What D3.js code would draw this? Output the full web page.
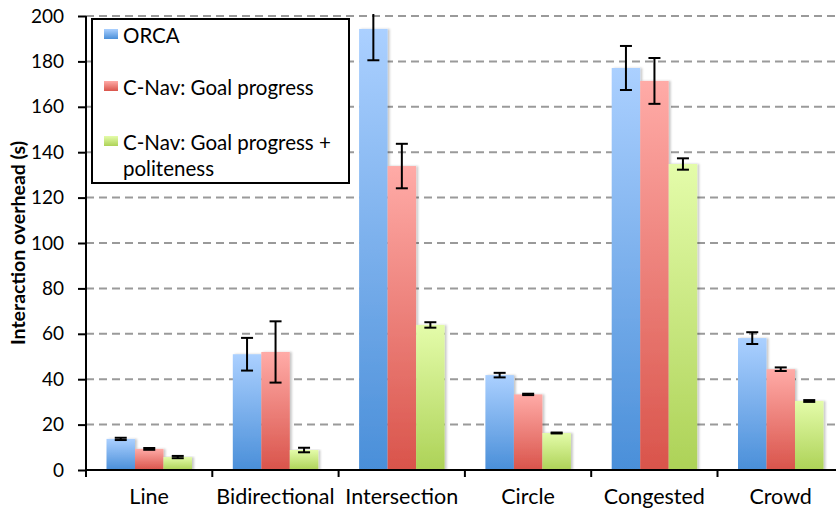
<!DOCTYPE html>
<html>
<head>
<meta charset="utf-8">
<script src="https://cdn.jsdelivr.net/npm/d3@7/dist/d3.min.js"></script>
<style>
  html, body { margin: 0; padding: 0; background: #fff; }
  svg { display: block; font-family: Lato, "Open Sans", sans-serif; }
</style>
</head>
<body>
<svg id="chart" width="836" height="509"></svg>
<script>
// Scenario names along the x axis
const categories = ["Line", "Bidirectional", "Intersection", "Circle", "Congested", "Crowd"];
// Planner variants shown in the legend
const seriesNames = ["ORCA", "C-Nav: Goal progress", "C-Nav: Goal progress + politeness"];
// Mean interaction overhead (s) per scenario, one array per planner
const orcaMean     = [13.7, 51.0, 194.3, 41.8, 177.1, 58.1];
const goalMean     = [9.3, 52.0, 133.9, 33.3, 171.4, 44.4];
const politeMean   = [5.7, 8.8, 63.9, 16.3, 134.8, 30.4];
// Error-bar half widths (s)
const orcaErr      = [0.5, 7.2, 13.8, 1.0, 9.7, 2.6];
const goalErr      = [0.4, 13.5, 9.8, 0.3, 10.1, 0.8];
const politeErr    = [0.5, 1.0, 1.2, 0.2, 2.5, 0.4];
// Y axis ticks
const yTicks = [0, 20, 40, 60, 80, 100, 120, 140, 160, 180, 200];

const means = [orcaMean, goalMean, politeMean];
const errs = [orcaErr, goalErr, politeErr];
const gradStops = [
  ["#abd0ff", "#4a8fd9"],
  ["#ffaba7", "#d9544b"],
  ["#e4fcaa", "#add257"]
];

const svg = d3.select("#chart");
const plotLeft = 86, plotTop = 16, plotBottom = 470;
const bandW = 126.3;

const y = d3.scaleLinear().domain([0, 200]).range([plotBottom, plotTop]);
const x = d3.scaleBand().domain(categories).range([plotLeft, plotLeft + bandW * categories.length]).padding(0);
const xs = d3.scaleBand().domain(d3.range(seriesNames.length)).range([20.5, 20.5 + 85.5]).padding(0);

const defs = svg.append("defs");
gradStops.forEach((s, i) => {
  const g = defs.append("linearGradient").attr("id", "grad" + i)
    .attr("x1", 0).attr("y1", 0).attr("x2", 0).attr("y2", 1);
  g.append("stop").attr("offset", "0%").attr("stop-color", s[0]);
  g.append("stop").attr("offset", "100%").attr("stop-color", s[1]);
});
const shadow = defs.append("filter").attr("id", "barShadow")
  .attr("x", "-20%").attr("y", "-5%").attr("width", "150%").attr("height", "110%");
shadow.append("feDropShadow").attr("dx", 2).attr("dy", 0).attr("stdDeviation", 1.2)
  .attr("flood-color", "#000").attr("flood-opacity", 0.22);
defs.append("clipPath").attr("id", "plotClip")
  .append("rect").attr("x", plotLeft).attr("y", plotTop - 2).attr("width", 836 - plotLeft).attr("height", plotBottom - plotTop + 2);

// Dashed horizontal gridlines
svg.append("g").selectAll("line").data(yTicks.filter(d => d > 0)).join("line")
  .attr("x1", plotLeft).attr("x2", 836)
  .attr("y1", d => y(d)).attr("y2", d => y(d))
  .attr("stroke", "#9a9a9a").attr("stroke-width", 2)
  .attr("stroke-dasharray", "8,5");

// Bars
const plot = svg.append("g").attr("clip-path", "url(#plotClip)");
means.forEach((vals, si) => {
  plot.append("g").selectAll("rect").data(vals).join("rect")
    .attr("x", (d, i) => x(categories[i]) + xs(si))
    .attr("y", d => y(d))
    .attr("width", xs.bandwidth())
    .attr("height", d => y(0) - y(d))
    .attr("fill", `url(#grad${si})`)
    .attr("filter", "url(#barShadow)");
});

// Error bars
means.forEach((vals, si) => {
  const g = plot.append("g").attr("stroke", "#000").attr("stroke-width", 2);
  vals.forEach((v, i) => {
    const cx = x(categories[i]) + xs(si) + xs.bandwidth() / 2;
    const lo = v - errs[si][i], hi = v + errs[si][i];
    g.append("line").attr("x1", cx).attr("x2", cx).attr("y1", y(lo)).attr("y2", y(hi));
    [lo, hi].forEach(e => {
      g.append("line").attr("x1", cx - 6).attr("x2", cx + 6).attr("y1", y(e)).attr("y2", y(e));
    });
  });
});

// Y axis
const yAxis = svg.append("g").attr("transform", `translate(${plotLeft},0)`)
  .call(d3.axisLeft(y).tickValues(yTicks).tickSize(8).tickPadding(14));
yAxis.select(".domain").remove();
yAxis.selectAll(".tick line").attr("stroke", "#000").attr("stroke-width", 2);
yAxis.selectAll(".tick text").attr("font-size", 19).attr("fill", "#000")
  .attr("font-family", "Lato, sans-serif");
svg.append("line").attr("x1", plotLeft).attr("x2", plotLeft).attr("y1", plotTop).attr("y2", plotBottom + 7)
  .attr("stroke", "#000").attr("stroke-width", 2);

// X axis
const xAxis = svg.append("g").attr("transform", `translate(0,${plotBottom})`)
  .call(d3.axisBottom(x).tickSize(0).tickPadding(0));
xAxis.select(".domain").remove();
xAxis.selectAll(".tick text").attr("font-size", 21.5).attr("fill", "#000")
  .attr("font-family", "Lato, sans-serif")
  .attr("dy", null).attr("y", 33.5);
svg.append("line").attr("x1", plotLeft).attr("x2", 836).attr("y1", plotBottom).attr("y2", plotBottom)
  .attr("stroke", "#000").attr("stroke-width", 2);
svg.append("g").selectAll("line").data(categories.slice(1)).join("line")
  .attr("x1", d => x(d)).attr("x2", d => x(d))
  .attr("y1", plotBottom).attr("y2", plotBottom + 7)
  .attr("stroke", "#000").attr("stroke-width", 2);

// Y axis title
svg.append("text")
  .attr("transform", `translate(25,243) rotate(-90)`)
  .attr("text-anchor", "middle")
  .attr("font-size", 19.5).attr("font-weight", "bold")
  .text("Interaction overhead (s)");

// Legend
const lg = svg.append("g");
lg.append("rect").attr("x", 92).attr("y", 19).attr("width", 257).attr("height", 164)
  .attr("fill", "#fff").attr("stroke", "#000").attr("stroke-width", 2);
const legendRows = [
  { lines: ["ORCA"], base: 43 },
  { lines: ["C-Nav: Goal progress"], base: 95 },
  { lines: ["C-Nav: Goal progress +", "politeness"], base: 150 }
];
legendRows.forEach((row, i) => {
  lg.append("rect").attr("x", 104).attr("y", row.base - 14).attr("width", 14).attr("height", 10)
    .attr("fill", `url(#grad${i})`);
  const t = lg.append("text").attr("x", 123).attr("y", row.base).attr("font-size", 20.5);
  row.lines.forEach((ln, k) => {
    t.append("tspan").attr("x", 123).attr("dy", k === 0 ? 0 : 26).text(ln);
  });
});
</script>
</body>
</html>
